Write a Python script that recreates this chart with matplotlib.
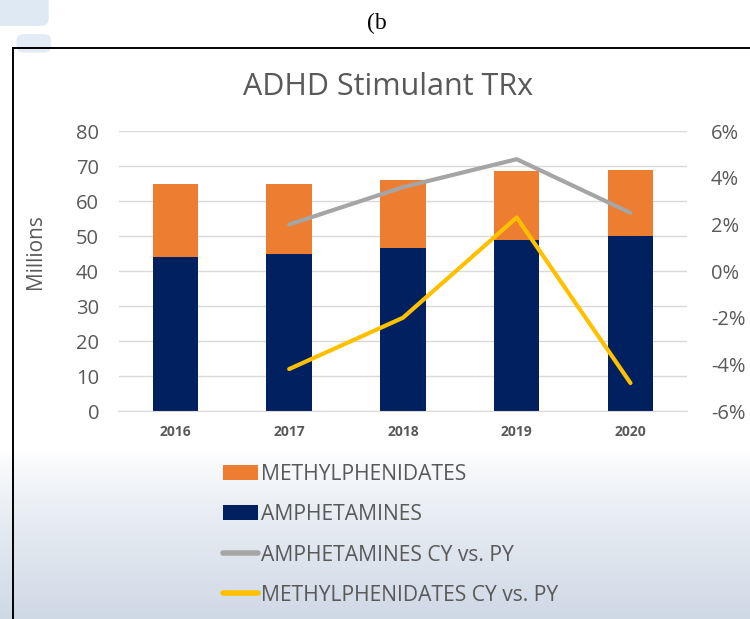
import matplotlib
matplotlib.use("Agg")
import matplotlib.pyplot as plt
import numpy as np
from matplotlib.patches import Rectangle, FancyBboxPatch
from matplotlib.ticker import FuncFormatter

plt.rcParams['font.family'] = ['Open Sans', 'DejaVu Sans']

years = ['2016', '2017', '2018', '2019', '2020']
amphetamines = [44, 45, 46.5, 49, 50]          # millions
methylphenidates = [21, 20, 19.5, 19.5, 19]    # millions (stacked on top)
amph_cy_vs_py = [np.nan, 2.0, 3.6, 4.8, 2.5]   # percent
meth_cy_vs_py = [np.nan, -4.2, -2.0, 2.3, -4.8]  # percent

text_gray = '#595959'
orange = '#ED7D31'
navy = '#002060'
gray = '#A5A5A5'
yellow = '#FFC000'

fig = plt.figure(figsize=(7.5, 6.19), dpi=100)

# slide background: white fading to pale blue-grey at the bottom
bg = fig.add_axes([0, 0, 1, 1], zorder=-10)
grad = np.ones((619, 1, 3))
t = np.clip((np.arange(619) - 450) / 169.0, 0, 1)[:, None] ** 0.8
grad[:, :, 0] = 1 - t * (1 - 0.81)
grad[:, :, 1] = 1 - t * (1 - 0.85)
grad[:, :, 2] = 1 - t * (1 - 0.90)
bg.imshow(grad, aspect='auto', extent=[0, 1, 0, 1], origin='upper')
bg.set_xlim(0, 1)
bg.set_ylim(0, 1)
bg.axis('off')
# bits of slide decoration in the top-left corner
bg.add_patch(FancyBboxPatch((-0.02, 0.958), 0.085, 0.05, boxstyle="round,pad=0,rounding_size=0.012",
                            fc='#dfe9f3', ec='none'))
bg.add_patch(FancyBboxPatch((0.022, 0.915), 0.046, 0.03, boxstyle="round,pad=0,rounding_size=0.01",
                            fc='#e3ecf5', ec='none'))
# frame of the chart
bg.add_patch(Rectangle((13 / 750, -0.05), 1.0, 0.9225 + 0.05, fill=False, ec='black', lw=1.4))

fig.text(0.502, 0.962, '(b', family='Liberation Serif', fontsize=17, ha='center', va='center', color='black')

ax = fig.add_axes([0.158, 0.336, 0.7585, 0.452])
x = np.arange(len(years))
b1 = ax.bar(x, amphetamines, width=0.4, color=navy, label='AMPHETAMINES', zorder=2)
b2 = ax.bar(x, methylphenidates, width=0.4, bottom=amphetamines, color=orange,
            label='METHYLPHENIDATES', zorder=2)
ax.set_ylim(0, 80)
ax.set_xlim(-0.5, len(years) - 0.5)
ax.set_yticks(np.arange(0, 81, 10))
ax.set_xticks(x)
ax.set_xticklabels(years, fontsize=10, fontweight='bold', color=text_gray)
ax.tick_params(axis='y', labelsize=14.5, labelcolor=text_gray, length=0, pad=14)
ax.tick_params(axis='x', length=0, pad=10)
ax.grid(axis='y', color='#d9d9d9', lw=1)
ax.set_axisbelow(True)
for s in ax.spines.values():
    s.set_visible(False)
ax.spines['bottom'].set_visible(True)
ax.spines['bottom'].set_color('#d9d9d9')
ax.patch.set_alpha(0)
ax.set_ylabel('Millions', fontsize=15, color=text_gray)
ax.yaxis.set_label_coords(-0.128, 0.57)

ax2 = ax.twinx()
l1, = ax2.plot(x, amph_cy_vs_py, color=gray, lw=3, solid_capstyle='round',
               label='AMPHETAMINES CY vs. PY', zorder=3)
l2, = ax2.plot(x, meth_cy_vs_py, color=yellow, lw=3, solid_capstyle='round',
               label='METHYLPHENIDATES CY vs. PY', zorder=3)
ax2.set_ylim(-6, 6)
ax2.set_yticks(np.arange(-6, 7, 2))
ax2.yaxis.set_major_formatter(FuncFormatter(lambda v, p: f"{v:.0f}%"))
ax2.tick_params(axis='y', labelsize=14.5, labelcolor=text_gray, length=0, pad=17)
for s in ax2.spines.values():
    s.set_visible(False)

fig.text(0.517, 0.86, 'ADHD Stimulant TRx', fontsize=22, color=text_gray, ha='center', va='center')

leg = fig.legend(handles=[b2, b1, l1, l2], loc='upper left', bbox_to_anchor=(0.283, 0.268),
                 frameon=False, fontsize=15.2, labelcolor=text_gray, handlelength=1.65,
                 handleheight=0.75, handletextpad=0.15, labelspacing=0.92, borderpad=0)
for h in leg.get_lines():
    h.set_linewidth(4)

fig.savefig('out.png', dpi=100)
